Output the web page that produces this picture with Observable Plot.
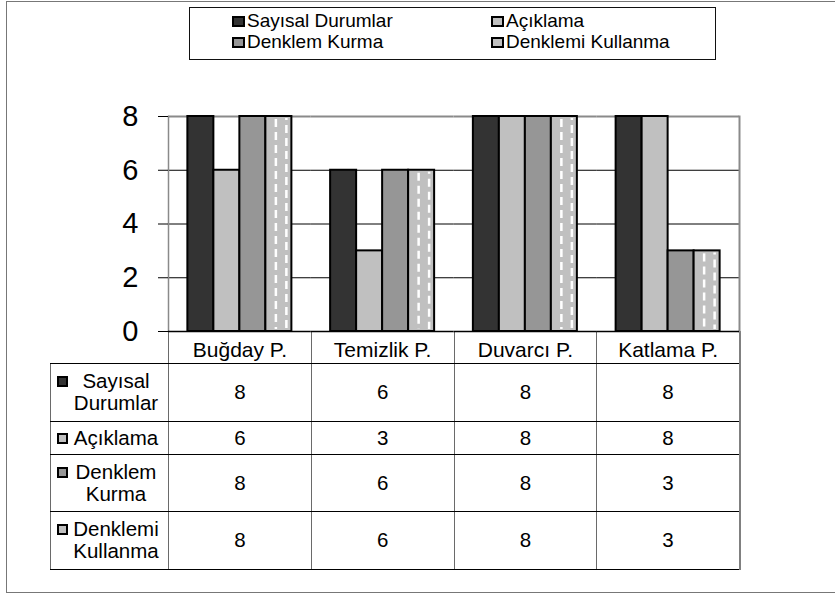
<!DOCTYPE html>
<html>
<head>
<meta charset="utf-8">
<script src="https://cdn.jsdelivr.net/npm/d3@7"></script>
<script src="https://cdn.jsdelivr.net/npm/@observablehq/plot@0.6"></script>
<style>
  html, body { margin: 0; padding: 0; background: #fff; }
  #wrap { position: relative; width: 835px; height: 594px; overflow: hidden; background: #fff;
          font-family: "Liberation Sans", Arial, sans-serif; color: #000; }
  #outer { position: absolute; left: 6px; top: 1px; width: 850px; height: 592px; box-sizing: border-box;
           border: 1.5px solid #777; }
  #legend { position: absolute; left: 189px; top: 7px; width: 527px; height: 53px; box-sizing: border-box;
            border: 1.5px solid #111; background: #fff;
            display: grid; grid-template-columns: 259px 225px; grid-template-rows: 21px 21px;
            padding-left: 42px; padding-top: 2.5px; font-size: 19px; }
  .litem { display: flex; align-items: center; white-space: nowrap; }
  .key { display: inline-block; box-sizing: border-box; border: 2px solid #000; flex: none; }
  .litem .key { width: 13px; height: 11px; margin-right: 2px; }
  #tbl { position: absolute; left: 50px; top: 331px; border-collapse: collapse; table-layout: fixed;
         width: 689px; font-size: 20.5px; background: transparent; }
  #tbl td { padding: 0; text-align: center; vertical-align: middle;
            border-top: 1px solid #000; border-bottom: 1px solid #000;
            border-left: 1px solid #6a6a6a; border-right: 1px solid #6a6a6a; }
  #tbl tr.head td { border-top: none; }
  #tbl tr.head td.blank { border-left: none; }
  #tbl td.last { border-right: 2px solid #808080; }
  .lab { display: flex; align-items: flex-start; padding-left: 6px; padding-right: 4px; line-height: 22px; }
  .lab .key { width: 11px; height: 11px; margin-top: 6px; }
  .lab .txt { flex: 1; text-align: center; }
  #chart { position: absolute; left: 0; top: 0; pointer-events: none; }
</style>
</head>
<body>
<div id="wrap">
  <div id="outer"></div>
  <div id="legend"></div>
  <table id="tbl"></table>
  <div id="chart"></div>
</div>
<script>
// ---- data ----
const categories = ["Buğday P.", "Temizlik P.", "Duvarcı P.", "Katlama P."];
const seriesNames = ["Sayısal Durumlar", "Açıklama", "Denklem Kurma", "Denklemi Kullanma"];
const seriesLabelLines = [["Sayısal", "Durumlar"], ["Açıklama"], ["Denklem", "Kurma"], ["Denklemi", "Kullanma"]];
const sayisalDurumlar = [8, 6, 8, 8];
const aciklama = [6, 3, 8, 8];
const denklemKurma = [8, 6, 8, 3];
const denklemiKullanma = [8, 6, 8, 3];
const yTicks = [0, 2, 4, 6, 8];
const gridTicks = [2, 4, 6];
const seriesColors = ["#333333", "#c0c0c0", "#969696", "#c0c0c0"];

const seriesValues = [sayisalDurumlar, aciklama, denklemKurma, denklemiKullanma];
const data = [];
seriesNames.forEach((s, si) => categories.forEach((c, ci) =>
  data.push({category: c, series: s, value: seriesValues[si][ci]})));
const dashed = data.filter(d => d.series === seriesNames[3]);

// ---- legend ----
const legend = document.getElementById("legend");
[0, 1, 2, 3].forEach(i => {
  const it = document.createElement("div");
  it.className = "litem";
  it.innerHTML = `<span class="key" style="background:${seriesColors[i]}"></span><span>${seriesNames[i]}</span>`;
  legend.appendChild(it);
});

// ---- data table ----
const tbl = document.getElementById("tbl");
const cg = document.createElement("colgroup");
cg.innerHTML = `<col style="width:118px">` + categories.map(() => `<col style="width:142.75px">`).join("");
tbl.appendChild(cg);
const head = document.createElement("tr");
head.className = "head";
head.style.height = "32px";
head.innerHTML = `<td class="blank"></td>` + categories.map((c, i) => `<td class="${i === categories.length - 1 ? "last" : ""}"></td>`).join("");
tbl.appendChild(head);
const rowHeights = [58, 33, 57, 58];
seriesNames.forEach((s, si) => {
  const tr = document.createElement("tr");
  tr.style.height = rowHeights[si] + "px";
  tr.innerHTML = `<td><div class="lab"><span class="key" style="background:${seriesColors[si]}"></span><span class="txt">${seriesLabelLines[si].join("<br>")}</span></div></td>` +
    seriesValues[si].map((v, i) => `<td class="${i === categories.length - 1 ? "last" : ""}">${v}</td>`).join("");
  tbl.appendChild(tr);
});

// ---- chart ----
const chart = Plot.plot({
  width: 835,
  height: 594,
  marginLeft: 168,
  marginRight: 96,
  marginTop: 116,
  marginBottom: 263,
  style: {background: "transparent", fontFamily: "'Liberation Sans', Arial, sans-serif", color: "#000", overflow: "visible"},
  fx: {domain: categories, padding: 0, round: false, label: null},
  x: {domain: seriesNames, paddingInner: 0, paddingOuter: 0.745, round: false, axis: null},
  y: {domain: [0, 8], label: null},
  color: {domain: seriesNames, range: seriesColors},
  marks: [
    Plot.gridY(gridTicks, {stroke: "#000", strokeOpacity: 1, strokeWidth: 1}),
    Plot.ruleY([8], {stroke: "#8a8a8a", strokeWidth: 2}),
    Plot.frame({anchor: "left", facetAnchor: "left", stroke: "#8a8a8a", strokeWidth: 1.5}),
    Plot.frame({anchor: "right", facetAnchor: "right", stroke: "#8a8a8a", strokeWidth: 2}),
    Plot.barY(data, {fx: "category", x: "series", y: "value", fill: "series", stroke: "#000", strokeWidth: 2}),
    Plot.ruleX(dashed, {fx: "category", x: "series", y1: "value", y2: 0, dx: -3, insetTop: 2, insetBottom: 2,
      stroke: "#fff", strokeWidth: 2.5, strokeDasharray: "8,5", strokeDashoffset: -1}),
    Plot.ruleX(dashed, {fx: "category", x: "series", y1: "value", y2: 0, dx: 7.5, insetTop: 2, insetBottom: 2,
      stroke: "#fff", strokeWidth: 2.5, strokeDasharray: "8,5", strokeDashoffset: 6}),
    Plot.ruleY([0], {stroke: "#000", strokeWidth: 1.5}),
    Plot.axisY({ticks: yTicks, tickSize: 10, tickPadding: 20, fontSize: 29, label: null}),
    Plot.axisFx({anchor: "bottom", tickSize: 0, tickPadding: 11, fontSize: 21, label: null})
  ]
});
document.getElementById("chart").appendChild(chart);
</script>
</body>
</html>
